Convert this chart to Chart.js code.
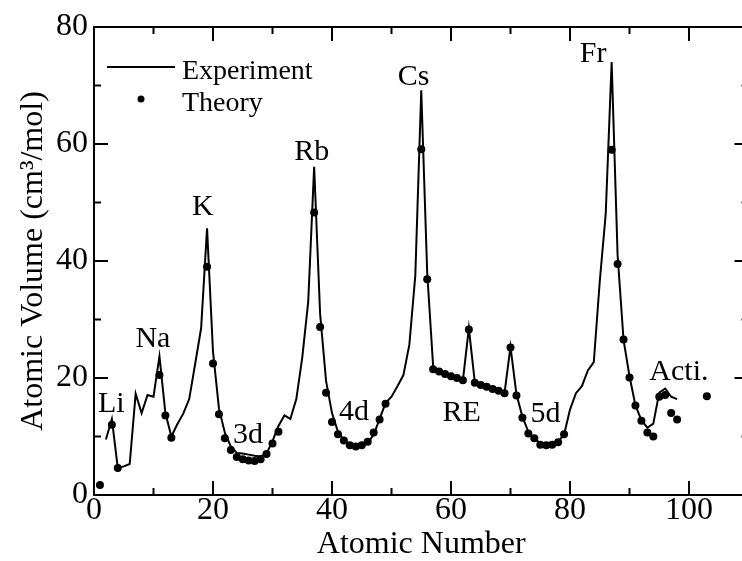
<!DOCTYPE html>
<html>
<head>
<meta charset="utf-8">
<script src="https://cdn.jsdelivr.net/npm/chart.js@4/dist/chart.umd.min.js"></script>
<style>
  html, body { margin: 0; padding: 0; background: #fff; overflow: hidden; }
  #wrap { position: relative; width: 760px; height: 561px; }
</style>
</head>
<body>
<div id="wrap"><canvas id="volume-chart"></canvas></div>
<script>
// experiment (line)
var expZ = [2, 3, 4, 5, 6, 7, 8, 9, 10, 11, 12, 13, 14, 15, 16, 17, 18, 19, 20,
  21, 22, 23, 24, 25, 26, 27, 28, 29, 30, 31, 32, 33, 34, 35, 36, 37, 38, 39, 40,
  41, 42, 43, 44, 45, 46, 47, 48, 49, 50, 51, 52, 53, 54, 55, 56, 57, 58, 59, 60,
  61, 62, 63, 64, 65, 66, 67, 68, 69, 70, 71, 72, 73, 74, 75, 76, 77, 78, 79, 80,
  81, 82, 83, 84, 85, 86, 87, 88, 89, 90, 91, 92, 93, 94, 95, 96, 97, 98];
var expVolume = [9.5, 13.0, 4.6, 4.9, 5.3, 17.3, 14.0, 17.1, 16.8, 23.7, 14.0, 10.0, 12.1, 13.9, 16.4, 22.4, 28.5, 45.6, 24.5,
  14.8, 10.6, 8.3, 7.2, 7.1, 6.9, 6.7, 6.6, 7.1, 9.2, 11.8, 13.6, 13.0, 16.4, 23.5, 33.0, 56.1, 31.0, 19.5, 14.0,
  10.8, 9.4, 8.6, 8.3, 8.3, 8.9, 10.3, 13.0, 15.7, 16.8, 18.6, 20.5, 25.7, 37.5, 69.2, 38.0, 22.0, 21.2, 20.8, 20.4,
  20.0, 19.6, 28.5, 19.3, 18.9, 18.5, 18.2, 17.8, 17.5, 25.3, 17.2, 13.4, 10.8, 9.6, 8.9, 8.5, 8.6, 9.1, 10.3, 14.6,
  17.4, 18.6, 21.3, 22.7, 36.5, 48.0, 74.0, 41.0, 26.5, 20.3, 15.3, 12.8, 11.5, 12.2, 17.5, 18.2, 16.8, 16.4];

// theory (dots)
var theoryZ = [1, 3, 4, 11, 12, 13, 19, 20, 21, 22, 23, 24, 25, 26, 27, 28, 29, 30, 31,
  37, 38, 39, 40, 41, 42, 43, 44, 45, 46, 47, 48, 49, 55, 56, 57, 58, 59, 60, 61, 62,
  63, 64, 65, 66, 67, 68, 69, 70, 71, 72, 73, 74, 75, 76, 77, 78, 79,
  87, 88, 89, 90, 91, 92, 93, 94, 95, 96, 97, 98, 103];
var theoryVolume = [1.7, 12.0, 4.6, 20.5, 13.6, 9.8, 39.0, 22.5, 13.8, 9.7, 7.7, 6.5, 6.1, 5.9, 5.8, 6.1, 7.0, 8.8, 10.8,
  48.3, 28.7, 17.5, 12.5, 10.4, 9.3, 8.5, 8.3, 8.5, 9.1, 10.7, 12.9, 15.6, 59.1, 36.9, 21.5, 21.1, 20.7, 20.3, 20.0, 19.6,
  28.3, 19.2, 18.8, 18.5, 18.1, 17.8, 17.4, 25.2, 17.0, 13.2, 10.5, 9.7, 8.6, 8.5, 8.6, 9.0, 10.4,
  59.0, 39.5, 26.6, 20.1, 15.3, 12.7, 10.7, 10.0, 16.8, 17.1, 14.0, 12.9, 16.9];

var xTickValues = [0, 20, 40, 60, 80, 100];
var yTickValues = [0, 20, 40, 60, 80];

var groupLabels = ['Li', 'Na', 'K', 'Rb', 'Cs', 'Fr', '3d', '4d', 'RE', '5d', 'Acti.'];
var groupLabelZ = [2.9, 9.9, 18.3, 36.6, 53.7, 83.9, 25.9, 43.7, 61.8, 75.9, 98.3];
var groupLabelVolume = [14.2, 25.3, 47.9, 57.3, 70.1, 74.0, 8.9, 12.8, 12.6, 12.5, 19.7];

var serif = '"Liberation Serif", "Times New Roman", serif';

function toPoints(xs, ys) {
  return xs.map(function(x, i) { return {x: x, y: ys[i]}; });
}

var framePlugin = {
  id: 'frame',
  afterDraw: function(chart) {
    var ctx = chart.ctx, a = chart.chartArea;
    var xs = chart.scales.x, ys = chart.scales.y;
    ctx.save();
    ctx.strokeStyle = '#000';
    ctx.lineWidth = 2;
    ctx.strokeRect(a.left, a.top, a.right - a.left, a.bottom - a.top);

    // inward ticks on all four sides
    ctx.beginPath();
    for (var v = 0; v <= 110; v += 10) {
      var px = xs.getPixelForValue(v);
      var len = v % 20 === 0 ? 14 : 7;
      ctx.moveTo(px, a.bottom); ctx.lineTo(px, a.bottom - len);
      ctx.moveTo(px, a.top); ctx.lineTo(px, a.top + len);
    }
    for (var w = 0; w <= 80; w += 10) {
      var py = ys.getPixelForValue(w);
      var l2 = w % 20 === 0 ? 14 : 7;
      ctx.moveTo(a.left, py); ctx.lineTo(a.left + l2, py);
      ctx.moveTo(a.right, py); ctx.lineTo(a.right - l2, py);
    }
    ctx.stroke();

    // group labels
    ctx.fillStyle = '#000';
    ctx.font = '30px ' + serif;
    ctx.textAlign = 'center';
    ctx.textBaseline = 'alphabetic';
    groupLabels.forEach(function(t, i) {
      ctx.fillText(t, xs.getPixelForValue(groupLabelZ[i]), ys.getPixelForValue(groupLabelVolume[i]));
    });

    // legend
    ctx.font = '28px ' + serif;
    ctx.textAlign = 'left';
    ctx.beginPath();
    ctx.moveTo(107, 67); ctx.lineTo(175, 67);
    ctx.stroke();
    ctx.fillText('Experiment', 182, 79);
    ctx.beginPath();
    ctx.arc(141, 99, 3.5, 0, Math.PI * 2);
    ctx.fill();
    ctx.fillText('Theory', 182, 111);
    ctx.restore();
  }
};

var ctx = document.getElementById('volume-chart');
new Chart(ctx, {
  type: 'scatter',
  data: {
    datasets: [{
      label: 'Experiment',
      data: toPoints(expZ, expVolume),
      showLine: true,
      borderColor: '#000',
      borderWidth: 2,
      pointRadius: 0,
      tension: 0
    }, {
      label: 'Theory',
      data: toPoints(theoryZ, theoryVolume),
      showLine: false,
      pointRadius: 4,
      pointBackgroundColor: '#000',
      pointBorderColor: '#000',
      pointBorderWidth: 0
    }]
  },
  options: {
    responsive: true,
    maintainAspectRatio: false,
    animation: false,
    layout: { padding: { top: 27, right: 11.5, left: 0, bottom: 0 } },
    plugins: { legend: { display: false }, tooltip: { enabled: false } },
    scales: {
      x: {
        type: 'linear',
        min: 0,
        max: 110,
        afterBuildTicks: function(s) { s.ticks = xTickValues.map(function(v) { return {value: v}; }); },
        afterFit: function(s) { s.height = 66; },
        grid: { display: false, drawTicks: false },
        border: { display: false },
        ticks: { color: '#000', padding: 0, maxRotation: 0, font: { family: serif, size: 32, lineHeight: 1 } },
        title: {
          display: true,
          text: 'Atomic Number',
          color: '#000',
          padding: { top: 0, bottom: 0 },
          font: { family: serif, size: 32, lineHeight: 1 }
        }
      },
      y: {
        type: 'linear',
        min: 0,
        max: 80,
        afterBuildTicks: function(s) { s.ticks = yTickValues.map(function(v) { return {value: v}; }); },
        afterFit: function(s) { s.width = 94; },
        grid: { display: false, drawTicks: false },
        border: { display: false },
        ticks: { color: '#000', padding: 6, font: { family: serif, size: 32, lineHeight: 1 } },
        title: {
          display: true,
          text: 'Atomic Volume (cm³/mol)',
          color: '#000',
          padding: { top: 14, bottom: 0 },
          font: { family: serif, size: 32, lineHeight: 1.2 }
        }
      }
    }
  },
  plugins: [framePlugin]
});
</script>
</body>
</html>
